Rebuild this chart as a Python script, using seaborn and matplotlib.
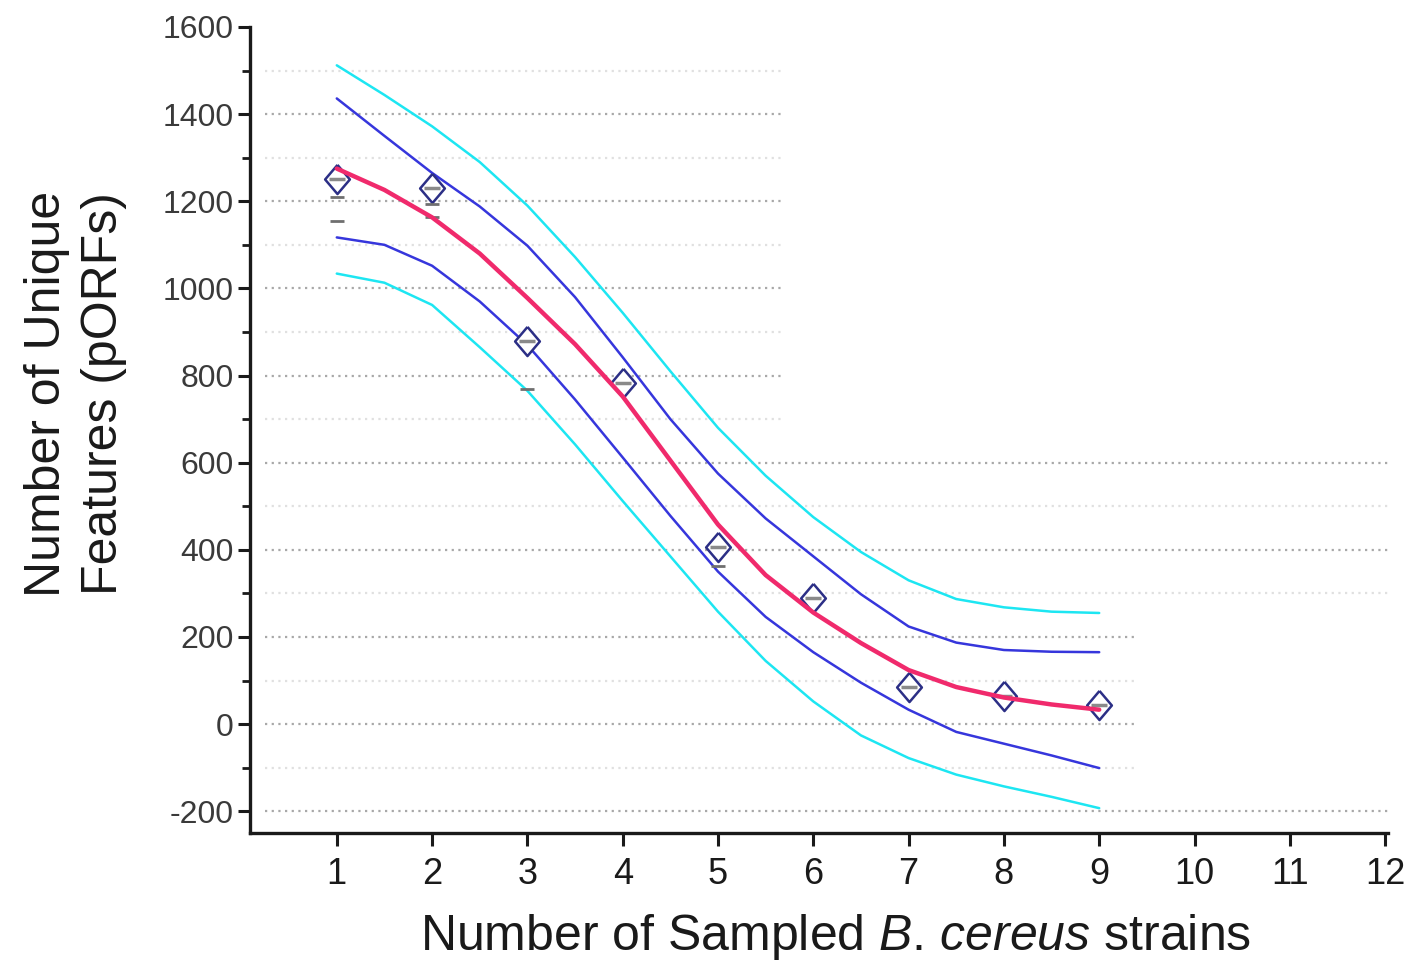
import numpy as np
import pandas as pd
import matplotlib
matplotlib.use("Agg")
import matplotlib.pyplot as plt
import seaborn as sns

# observed points (diamonds)
strains = [1, 2, 3, 4, 5, 6, 7, 8, 9]
unique_feats = [1250, 1231, 879, 782, 406, 289, 84, 64, 43]

# extra replicate dashes below the diamonds
dash_x = [1, 1, 2, 2, 3, 5]
dash_y = [1209, 1154, 1193, 1163, 769, 363]

# curves read at half steps
curve_x = [1, 1.5, 2, 2.5, 3, 3.5, 4, 4.5, 5, 5.5, 6, 6.5, 7, 7.5, 8, 8.5, 9]
fit = [1275, 1226, 1163, 1080, 978, 872, 752, 605, 458, 342, 256, 186, 124, 85, 61, 45, 33]
conf_hi = [1436, 1350, 1265, 1188, 1098, 980, 842, 700, 575, 472, 385, 298, 224, 187, 170, 166, 165]
conf_lo = [1117, 1100, 1052, 970, 870, 745, 612, 478, 350, 246, 165, 95, 33, -18, -45, -72, -101]
pred_hi = [1512, 1444, 1372, 1290, 1190, 1072, 944, 810, 680, 570, 475, 395, 330, 287, 268, 258, 255]
pred_lo = [1034, 1013, 962, 865, 765, 642, 512, 385, 258, 145, 52, -26, -78, -116, -143, -167, -193]

y_ticks = [-200, 0, 200, 400, 600, 800, 1000, 1200, 1400, 1600]
x_ticks = list(range(1, 13))

sns.set_style("ticks")
plt.rcParams["font.family"] = ["Liberation Sans", "DejaVu Sans"]
plt.rcParams["mathtext.fontset"] = "custom"
plt.rcParams["mathtext.rm"] = "Liberation Sans"
plt.rcParams["mathtext.it"] = "Liberation Sans:italic"
plt.rcParams["axes.unicode_minus"] = False

fig = plt.figure(figsize=(14.16, 9.64), dpi=100)
ax = fig.add_axes([0.1766, 0.1359, 0.8036, 0.8361])

# dotted grid segments (the original has uneven lengths)
for gy in range(-200, 1600, 100):
    if gy >= 700:
        x1 = 5.70
    elif gy in (300, 400, 500, 600, -200):
        x1 = 12.03
    else:
        x1 = 9.38
    col = "#a8a8a8" if gy % 200 == 0 else "#e0e0e0"
    ax.hlines(gy, 0.245, x1, colors=col, linestyles=(0, (1, 2)), linewidth=1.6, zorder=0)

df = pd.DataFrame({"x": curve_x, "fit": fit, "chi": conf_hi, "clo": conf_lo,
                   "phi": pred_hi, "plo": pred_lo})

for col, color, lw in [("phi", "#1de6f2", 1.8), ("plo", "#1de6f2", 1.8),
                       ("chi", "#3636dc", 1.8), ("clo", "#3636dc", 1.8)]:
    sns.lineplot(data=df, x="x", y=col, color=color, linewidth=lw, ax=ax,
                 estimator=None, sort=False, zorder=2)

diamond = [(0, 1), (0.85, 0), (0, -1), (-0.85, 0), (0, 1)]
ax.scatter(strains, unique_feats, marker=diamond, s=440, facecolors="white",
           edgecolors="#2c2f86", linewidths=1.8, zorder=3)
sns.scatterplot(x=strains, y=unique_feats, marker="_", s=130, color="#8a8a8a",
                linewidth=2.5, ax=ax, zorder=4)
sns.scatterplot(x=dash_x, y=dash_y, marker="_", s=110, color="#6f6f6f",
                linewidth=2.0, ax=ax, zorder=4)

sns.lineplot(data=df, x="x", y="fit", color="#f02a6c", linewidth=3.2, ax=ax,
             estimator=None, sort=False, zorder=5)

ax.set_xlim(0.09, 12.03)
ax.set_ylim(-250, 1600)
ax.set_xticks(x_ticks)
ax.set_yticks(y_ticks)
ax.set_yticks(range(-100, 1600, 200), minor=True)
ax.tick_params(axis="x", labelsize=26, length=9, width=2.2, pad=8, colors="#1a1a1a")
ax.tick_params(axis="y", which="major", labelsize=23, length=9, width=2.2, pad=3,
               colors="#1a1a1a", labelcolor="#3a3a3a")
ax.tick_params(axis="y", which="minor", length=6, width=2.0, colors="#1a1a1a")

for side in ("top", "right"):
    ax.spines[side].set_visible(False)
for side in ("left", "bottom"):
    ax.spines[side].set_linewidth(2.4)
    ax.spines[side].set_color("#1a1a1a")

ax.set_xlabel("Number of Sampled $\\mathit{B}$. $\\mathit{cereus}$ strains", fontsize=36,
              color="#1a1a1a")
ax.xaxis.set_label_coords(0.5145, -0.098)
ax.set_ylabel("Number of Unique\nFeatures (pORFs)", fontsize=36,
              color="#1a1a1a", linespacing=1.3)
ax.yaxis.set_label_coords(-0.108, 0.545)

fig.savefig("out.png", dpi=100)
